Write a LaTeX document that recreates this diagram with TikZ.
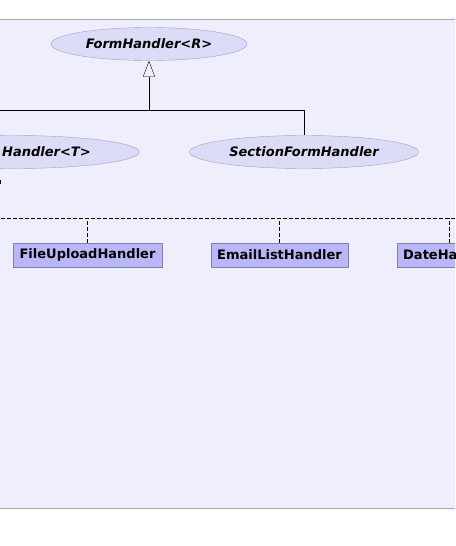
\documentclass[tikz,border=0pt]{standalone}
\usepackage{fontspec}
\setmainfont{DejaVu Sans}
\usepackage{tikz}
\usetikzlibrary{arrows.meta, shapes.geometric, positioning}

\definecolor{panelbg}{HTML}{EEEEFC}
\definecolor{panelline}{HTML}{A8A8B8}
\definecolor{ellfill}{HTML}{DCDCF8}
\definecolor{ellline}{HTML}{A0A0C0}
\definecolor{boxfill}{HTML}{B8B8F8}
\definecolor{boxline}{HTML}{8080B0}

\tikzset{
    iface/.style={ellipse, fill=ellfill, draw=ellline, inner sep=0pt,
        font=\bfseries\itshape\fontsize{13}{15}\selectfont},
    impl/.style={rectangle, fill=boxfill, draw=boxline, inner sep=0pt,
        font=\bfseries\fontsize{13}{15}\selectfont},
    extends/.style={-{Triangle[open, length=16pt, width=12pt]}},
    realizes/.style={dash pattern=on 4pt off 2pt}
}

\begin{document}
\begin{tikzpicture}[x=1pt, y=-1pt]
        \useasboundingbox (0, 0) rectangle (455, 546);
        \begin{scope}
        \clip (0, 0) rectangle (455, 546);

        % Package background
        \fill[panelbg] (-5, 19) rectangle (460, 508);
        \draw[panelline] (-5, 19) -- (460, 19);
        \draw[panelline] (-5, 508) -- (460, 508);

        % Abstract handlers (ellipses)
        \node[iface, minimum width=196pt, minimum height=33pt] (form) at (149, 44) {FormHandler<R>};
        \node[iface, minimum width=229pt, minimum height=33pt] (section) at (304, 152) {SectionFormHandler};
        \node[iface, minimum width=250pt, minimum height=33pt] (typed) at (14, 152) {};
        \node[font=\bfseries\itshape\fontsize{13}{15}\selectfont, anchor=west, inner sep=0pt] (typedlbl) at (2, 152) {Handler<T>};

        % Generalisation tree
        \coordinate (fork) at (149, 110);
        \coordinate (leftend) at (-5, 110);
        \draw (leftend) -- (section.north |- fork) -- (section.north);
        \draw[extends] (fork) -- (form.south);

        % Stub of the realisation line on the left
        \coordinate (stubtop) at (0.5, 180);
        \coordinate (stubbot) at (0.5, 184);
        \draw[line width=1pt] (stubtop) -- (stubbot);

        % Concrete handlers (boxes)
        \node[impl, minimum width=149pt, minimum height=24pt] (upload) at (87.5, 255) {FileUploadHandler};
        \node[impl, minimum width=137pt, minimum height=24pt] (email) at (279.5, 255) {EmailListHandler};
        \node[impl, text width=100pt, align=left, inner xsep=6pt, minimum height=24pt, anchor=west] (date) at (397, 255) {DateHandler};

        % Realisation bus
        \coordinate (busleft) at (-5, 218);
        \coordinate (busright) at (460, 218);
        \coordinate (datetop) at (449.5, 243);
        \draw[realizes] (busleft) -- (busright);
        \draw[realizes] (upload.north) -- (upload.north |- busleft);
        \draw[realizes] (email.north) -- (email.north |- busleft);
        \draw[realizes] (datetop) -- (datetop |- busleft);
        \end{scope}
\end{tikzpicture}
\end{document}
